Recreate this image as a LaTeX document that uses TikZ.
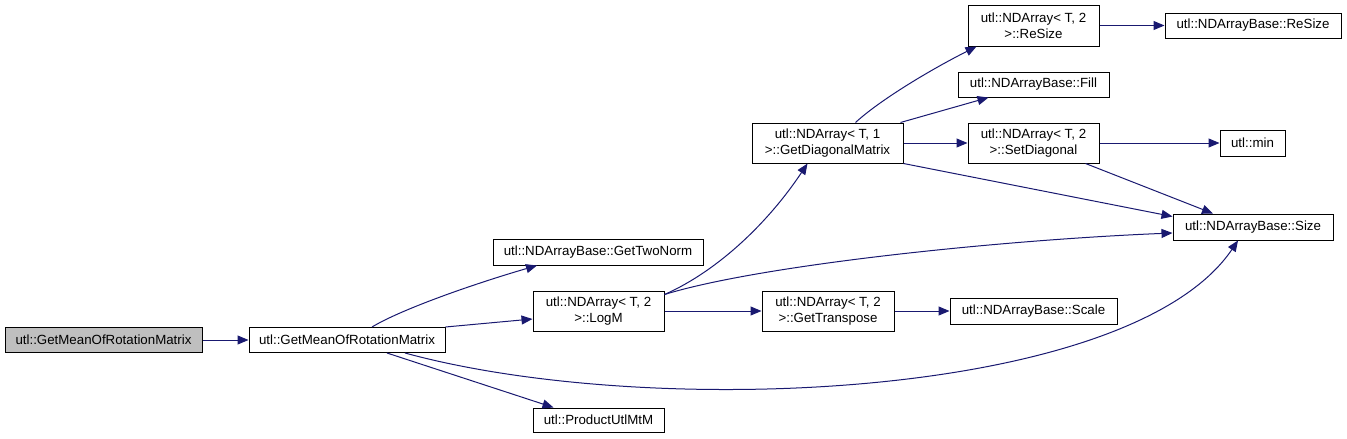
\documentclass[tikz,border=0pt]{standalone}
\usepackage{fontspec}
\setmainfont{Liberation Sans}
\usepackage{tikz}
\usetikzlibrary{arrows.meta,calc,positioning}
\definecolor{edgeblue}{HTML}{191970}
\definecolor{boxgray}{HTML}{BFBFBF}

\begin{document}
\begin{tikzpicture}[x=1pt,y=-1pt,
    fn/.style={draw=black, line width=1pt, fill=white, inner sep=0pt,
      minimum height=25pt, align=center,
      font=\fontsize{13.3}{16}\selectfont},
    call/.style={-{Triangle[length=11pt,width=9pt]}, draw=edgeblue,
      fill=none, line width=1pt}]
  \useasboundingbox (0,0) rectangle (1347,439);
  % the functions
  \node[fn, fill=boxgray, minimum width=197pt] (caller) at (103.5,340) {utl::GetMeanOfRotationMatrix};
  \node[fn, minimum width=196pt] (getmean) at (347,340) {utl::GetMeanOfRotationMatrix};
  \node[fn, minimum width=210pt, minimum height=26pt] (twonorm) at (598,252) {utl::NDArrayBase::GetTwoNorm};
  \node[fn, minimum width=131pt, minimum height=40pt] (logm) at (598.5,311) {utl::NDArray< T, 2\\>::LogM};
  \node[fn, minimum width=131pt, minimum height=24pt] (product) at (598.5,420) {utl::ProductUtlMtM};
  \node[fn, minimum width=132pt, minimum height=40pt] (transpose) at (828,311) {utl::NDArray< T, 2\\>::GetTranspose};
  \node[fn, minimum width=167pt, minimum height=26pt] (scale) at (1033.5,311) {utl::NDArrayBase::Scale};
  \node[fn, minimum width=160pt, minimum height=26pt] (size) at (1253,227) {utl::NDArrayBase::Size};
  \node[fn, minimum width=151pt, minimum height=40pt] (diag) at (827.5,143) {utl::NDArray< T, 1\\>::GetDiagonalMatrix};
  \node[fn, minimum width=131pt, minimum height=40pt] (setdiag) at (1033.5,143) {utl::NDArray< T, 2\\>::SetDiagonal};
  \node[fn, minimum width=65pt, minimum height=26pt] (minfn) at (1252.5,143) {utl::min};
  \node[fn, minimum width=151pt] (fill) at (1033.5,84.5) {utl::NDArrayBase::Fill};
  \node[fn, minimum width=131pt, minimum height=41pt] (resize) at (1033.5,25.5) {utl::NDArray< T, 2\\>::ReSize};
  \node[fn, minimum width=176pt] (resizebase) at (1253,25.5) {utl::NDArrayBase::ReSize};
  % calls
  \draw[call] (caller) -- (getmean);
  \draw[call] ($(getmean.north)+(25,0)$) .. controls (400,310) and (470,285) .. ($(twonorm.south)+(-61,0)$);
  \draw[call] (getmean.north east) -- ($(logm.west)+(0,8)$);
  \draw[call] ($(getmean.south)+(58,0)$) .. controls (650,420) and (1130,400) .. ($(size.south)+(-15,0)$);
  \draw[call] ($(getmean.south)+(40,0)$) -- ($(product.north)+(-45,0)$);
  \draw[call] ($(logm.north east)+(0,4)$) .. controls (720,270) and (770,220) .. ($(diag.south)+(-20,0)$);
  \draw[call] ($(logm.north east)+(0,4)$) .. controls (760,265) and (1000,240) .. ($(size.west)+(0,6)$);
  \draw[call] (logm) -- (transpose);
  \draw[call] (transpose) -- (scale);
  \draw[call] ($(diag.north)+(28,0)$) .. controls (880,100) and (930,70) .. ($(resize.south west)+(9,0)$);
  \draw[call] ($(diag.north east)+(-3,0)$) -- ($(fill.south)+(-45,0)$);
  \draw[call] (diag) -- (setdiag);
  \draw[call] (diag.south east) -- ($(size.north west)+(0,3)$);
  \draw[call] (resize) -- (resizebase);
  \draw[call] (setdiag) -- (minfn);
  \draw[call] ($(setdiag.south)+(52,0)$) -- ($(size.north)+(-40,0)$);
\end{tikzpicture}
\end{document}
